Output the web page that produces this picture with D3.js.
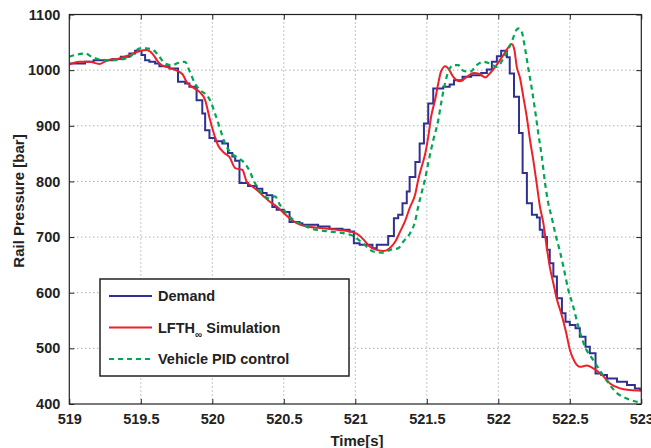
<!DOCTYPE html>
<html><head><meta charset="utf-8">
<script src="https://cdn.jsdelivr.net/npm/d3@7"></script>
<style>
html,body{margin:0;padding:0;background:#fff;overflow:hidden}
text{font-family:"Liberation Sans",Arial,Helvetica,sans-serif;font-weight:bold;fill:#222}
</style></head>
<body><svg id="c" width="651" height="448"></svg>
<script>
const xTicks=[519,519.5,520,520.5,521,521.5,522,522.5,523];
const yTicks=[400,500,600,700,800,900,1000,1100];
const seriesNames=["Demand","LFTH","Vehicle PID control"];

const demandT=[519.00,519.11,519.17,519.30,519.36,519.42,519.46,519.505,519.53,519.56,519.60,519.63,519.70,519.76,519.81,519.84,519.89,519.93,519.95,519.98,520.02,520.07,520.11,520.14,520.16,520.19,520.25,520.31,520.35,520.38,520.42,520.45,520.50,520.54,520.61,520.63,520.74,520.82,520.91,520.96,520.99,521.03,521.12,521.15,521.23,521.27,521.30,521.33,521.36,521.38,521.42,521.45,521.48,521.51,521.545,521.615,521.66,521.69,521.75,521.81,521.88,521.92,521.955,521.99,522.02,522.06,522.08,522.11,522.145,522.17,522.20,522.235,522.27,522.29,522.31,522.34,522.36,522.385,522.41,522.445,522.47,522.50,522.54,522.57,522.61,522.64,522.68,522.72,522.76,522.83,522.90,522.955,522.99,523.00];
const demandP=[1012,1015,1018,1020,1024,1030,1035,1027,1018,1015,1012,1007,1003,979,976,970,946,922,892,878,872,868,851,845,837,797,792,787,779,775,754,749,745,727,725,722,719,715,713,710,689,686,680,686,702,734,740,761,782,808,835,868,904,940,967,970,974,982,988,991,995,1001,1015,1025,1035,1023,994,952,887,815,761,740,735,713,700,677,653,629,590,563,548,542,536,521,503,491,455,452,446,440,434,428,425,425];

const lfthT=[519.00,519.07,519.14,519.21,519.26,519.35,519.42,519.49,519.54,519.58,519.63,519.70,519.79,519.82,519.87,519.91,519.95,519.98,520.01,520.04,520.08,520.12,520.16,520.21,520.24,520.28,520.31,520.36,520.40,520.45,520.50,520.54,520.59,520.66,520.78,520.87,520.96,521.01,521.06,521.10,521.15,521.20,521.24,521.28,521.31,521.35,521.38,521.42,521.44,521.46,521.49,521.51,521.53,521.56,521.58,521.60,521.63,521.65,521.685,521.73,521.78,521.825,521.87,521.91,521.94,521.99,522.035,522.07,522.094,522.112,522.129,522.152,522.175,522.199,522.222,522.245,522.268,522.291,522.315,522.338,522.361,522.385,522.408,522.443,522.473,522.501,522.536,522.571,522.618,522.664,522.723,522.781,522.851,522.921,523.00];
const lfthP=[1010,1015,1015,1011,1017,1021,1027,1034,1036,1030,1012,1004,993,979,968,961,946,915,887,865,852,844,824,821,800,791,785,773,764,755,743,734,725,719,716,713,710,706,695,683,677,675,680,692,708,730,752,778,803,823,851,880,916,949,976,998,1007,1003,988,980,988,995,993,987,994,1010,1027,1041,1047,1037,1006,986,952,916,874,838,797,755,725,683,645,617,590,560,530,497,475,467,469,464,453,437,428,425,424];

const pidT=[519.00,519.11,519.157,519.215,519.285,519.355,519.424,519.494,519.541,519.587,519.622,519.669,519.716,519.762,519.809,519.843,519.879,519.914,519.961,519.984,520.019,520.054,520.089,520.124,520.182,520.229,520.264,520.287,520.334,520.392,520.438,520.473,520.52,520.566,520.636,520.683,520.73,520.823,520.916,520.986,521.056,521.126,521.196,521.243,521.30,521.336,521.383,521.418,521.44,521.464,521.487,521.51,521.545,521.58,521.604,521.627,521.65,521.685,521.72,521.755,521.802,521.849,521.895,521.942,521.989,522.04,522.094,522.129,522.145,522.164,522.187,522.21,522.234,522.257,522.28,522.304,522.327,522.35,522.373,522.397,522.431,522.455,522.49,522.524,522.56,522.606,522.664,522.711,522.769,522.828,522.898,522.968,523.00];
const pidP=[1024,1030,1024,1019,1018,1019,1024,1039,1039,1036,1027,1012,1009,1013,1015,997,976,964,955,946,922,895,868,853,842,832,817,803,782,770,773,758,743,731,722,716,713,710,707,702,688,674,672,677,680,692,707,728,755,780,803,833,874,910,946,976,997,1009,1009,999,997,1009,1015,1012,1006,1023,1051,1073,1075,1069,1039,1003,967,928,886,845,797,760,736,708,674,647,605,575,539,503,479,460,438,420,410,404,402];

const svg=d3.select("#c");
const L=69.3,R=641.3,T=14.5,B=404;
const x=d3.scaleLinear().domain([519,523]).range([L,R]);
const y=d3.scaleLinear().domain([400,1100]).range([B,T]);

svg.append("defs").append("clipPath").attr("id","clip")
  .append("rect").attr("x",L).attr("y",T).attr("width",R-L).attr("height",B-T);

// grid
const grid=svg.append("g").attr("stroke","#8a8a8a").attr("stroke-width",1).attr("stroke-dasharray","1,3");
xTicks.slice(1,-1).forEach(t=>grid.append("line").attr("x1",x(t)).attr("x2",x(t)).attr("y1",T).attr("y2",B));
yTicks.slice(1,-1).forEach(v=>grid.append("line").attr("x1",L).attr("x2",R).attr("y1",y(v)).attr("y2",y(v)));

const plot=svg.append("g").attr("clip-path","url(#clip)");
const mk=(T_,P_)=>T_.map((t,i)=>({t:t,p:P_[i]}));
const stepLine=d3.line().x(d=>x(d.t)).y(d=>y(d.p)).curve(d3.curveStepAfter);
const smooth=d3.line().x(d=>x(d.t)).y(d=>y(d.p)).curve(d3.curveMonotoneX);

plot.append("path").attr("d",stepLine(mk(demandT,demandP))).attr("fill","none")
  .attr("stroke","#2e3192").attr("stroke-width",2);
plot.append("path").attr("d",smooth(mk(lfthT,lfthP))).attr("fill","none")
  .attr("stroke","#ee2129").attr("stroke-width",2);
plot.append("path").attr("d",smooth(mk(pidT,pidP))).attr("fill","none")
  .attr("stroke","#00a651").attr("stroke-width",2.2).attr("stroke-dasharray","5,4");

// axes (box with inward ticks)
const ax=svg.append("g");
ax.append("g").attr("transform",`translate(0,${B})`)
  .call(d3.axisBottom(x).tickValues(xTicks).tickSizeInner(-5).tickSizeOuter(0).tickPadding(10).tickFormat(d3.format("")))
  .call(g=>g.select(".domain").remove());
ax.append("g").attr("transform",`translate(0,${T})`)
  .call(d3.axisTop(x).tickValues(xTicks).tickSizeInner(-5).tickSizeOuter(0).tickFormat(""))
  .call(g=>g.select(".domain").remove());
ax.append("g").attr("transform",`translate(${L},0)`)
  .call(d3.axisLeft(y).tickValues(yTicks).tickSizeInner(-5).tickSizeOuter(0).tickPadding(9).tickFormat(d3.format("")))
  .call(g=>g.select(".domain").remove());
ax.append("g").attr("transform",`translate(${R},0)`)
  .call(d3.axisRight(y).tickValues(yTicks).tickSizeInner(-5).tickSizeOuter(0).tickFormat(""))
  .call(g=>g.select(".domain").remove());
ax.selectAll(".tick line").attr("stroke","#222");
ax.selectAll(".tick text").attr("font-size","14.5px").attr("font-family","Liberation Sans, Arial, sans-serif").attr("font-weight","bold").attr("fill","#222");
svg.append("rect").attr("x",L).attr("y",T).attr("width",R-L).attr("height",B-T)
  .attr("fill","none").attr("stroke","#222").attr("stroke-width",1.2);

svg.append("text").attr("x",357).attr("y",446).attr("text-anchor","middle").attr("font-size","15px").text("Time[s]");
svg.append("text").attr("transform","translate(24,201) rotate(-90)").attr("text-anchor","middle").attr("font-size","15px").text("Rail Pressure [bar]");

// legend
const lg=svg.append("g");
lg.append("rect").attr("x",100).attr("y",279).attr("width",249).attr("height",97)
  .attr("fill","#fff").attr("stroke","#222").attr("stroke-width",1.5);
const rows=[{c:"#2e3192",d:null,y:296},{c:"#ee2129",d:null,y:327.5},{c:"#00a651",d:"5,4",y:359}];
rows.forEach((r,i)=>{
  lg.append("line").attr("x1",109).attr("x2",152).attr("y1",r.y).attr("y2",r.y)
    .attr("stroke",r.c).attr("stroke-width",2.2).attr("stroke-dasharray",r.d);
});
lg.append("text").attr("x",158).attr("y",301).attr("font-size","14.5px").text(seriesNames[0]);
const t2=lg.append("text").attr("x",158).attr("y",332.5).attr("font-size","14.5px");
t2.append("tspan").text(seriesNames[1]);
t2.append("tspan").attr("font-size","10px").attr("dy",5).text("\u221E");
t2.append("tspan").attr("dy",-5).text(" Simulation");
lg.append("text").attr("x",158).attr("y",364).attr("font-size","14.5px").text(seriesNames[2]);
</script></body></html>
